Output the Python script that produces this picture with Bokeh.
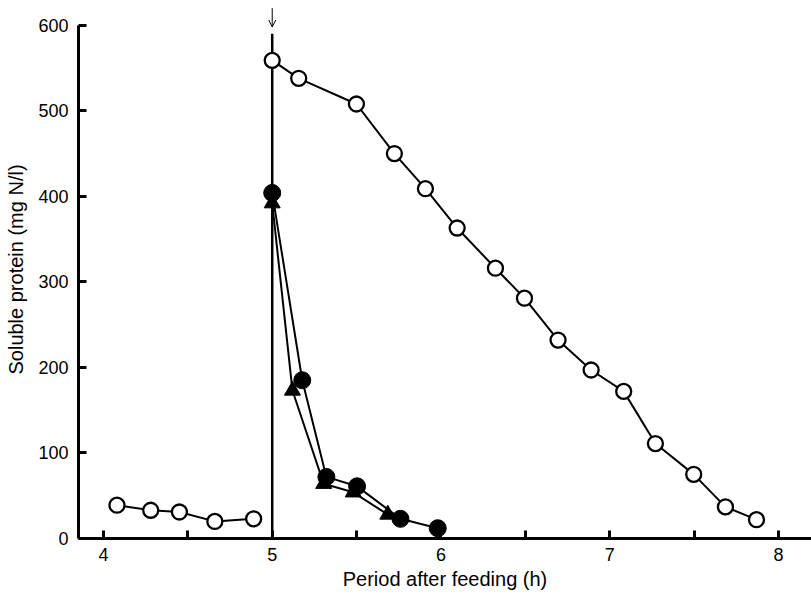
from bokeh.plotting import figure
from bokeh.models import Range1d, FixedTicker, Arrow, OpenHead
from bokeh.embed import file_html
from bokeh.resources import INLINE

# ---- data ----
pre_x = [4.08, 4.28, 4.45, 4.66, 4.89]
pre_y = [39, 33, 31, 20, 23]

open_x = [5.0, 5.157, 5.499, 5.724, 5.908, 6.096, 6.323, 6.495, 6.694, 6.890,
          7.083, 7.271, 7.498, 7.686, 7.870]
open_y = [559, 538, 508, 450, 409, 363, 316, 281, 232, 197, 172, 111, 75, 37, 22]

filled_x = [5.0, 5.178, 5.321, 5.503, 5.760, 5.981]
filled_y = [404, 185, 72, 61, 23, 12]

tri_x = [5.0, 5.12, 5.305, 5.48, 5.685]
tri_y = [392, 173, 64, 54, 28]

feed_time = 5.0
feed_line_y = [0, 590]
arrow_y = [620, 598]

x_major = [4, 5, 6, 7, 8]
x_minor = [4.5, 5.5, 6.5, 7.5]
y_ticks = [0, 100, 200, 300, 400, 500, 600]

FONT = "Liberation Sans"

p = figure(width=811, height=596, output_backend="svg", toolbar_location=None,
           x_range=Range1d(3.852, 8.196), y_range=Range1d(0, 629),
           min_border_left=78, min_border_right=0, min_border_top=0,
           min_border_bottom=58)
p.outline_line_color = None
p.grid.visible = False
p.background_fill_color = "white"
p.border_fill_color = "white"

# axes styling
p.xaxis.ticker = FixedTicker(ticks=x_major, minor_ticks=x_minor)
p.yaxis.ticker = FixedTicker(ticks=y_ticks)
p.yaxis.bounds = (0, 600)
for ax in (p.xaxis, p.yaxis):
    ax.axis_line_width = 3
    ax.axis_line_color = "black"
    ax.major_tick_line_width = 3
    ax.major_tick_line_color = "black"
    ax.major_tick_in = 8
    ax.major_tick_out = 0
    ax.minor_tick_line_width = 3
    ax.minor_tick_line_color = "black"
    ax.minor_tick_in = 8
    ax.minor_tick_out = 0
    ax.major_label_text_font = FONT
    ax.major_label_text_font_size = "18px"
    ax.major_label_text_color = "black"
    ax.axis_label_text_font = FONT
    ax.axis_label_text_font_size = "20px"
    ax.axis_label_text_font_style = "normal"
    ax.axis_label_text_color = "black"
p.yaxis.minor_tick_line_color = None
p.xaxis.axis_label = "Period after feeding (h)"
p.yaxis.axis_label = "Soluble protein (mg N/l)"
p.xaxis.major_label_standoff = 9
p.xaxis.axis_label_standoff = 4
p.yaxis.major_label_standoff = 10
p.yaxis.axis_label_standoff = 8

# feeding marker
p.line([feed_time, feed_time], feed_line_y, line_color="black", line_width=2.5)
p.add_layout(Arrow(end=OpenHead(size=7, line_width=1, line_color="black"),
                   x_start=feed_time, y_start=arrow_y[0],
                   x_end=feed_time, y_end=arrow_y[1],
                   line_width=1, line_color="black"))

# lines
p.line(pre_x, pre_y, line_color="black", line_width=2)
p.line(open_x, open_y, line_color="black", line_width=2)
p.line(tri_x, tri_y, line_color="black", line_width=2)
p.line(filled_x, filled_y, line_color="black", line_width=2)

# markers
p.scatter(tri_x, tri_y, marker="triangle", size=16, fill_color="black",
          line_color="black", line_width=1)
p.scatter(filled_x, filled_y, marker="circle", size=17, fill_color="black",
          line_color="black", line_width=1)
p.scatter(pre_x, pre_y, marker="circle", size=15, fill_color="white",
          line_color="black", line_width=2.3)
p.scatter(open_x, open_y, marker="circle", size=15, fill_color="white",
          line_color="black", line_width=2.3)

open("out.html", "w").write(file_html(p, INLINE))
